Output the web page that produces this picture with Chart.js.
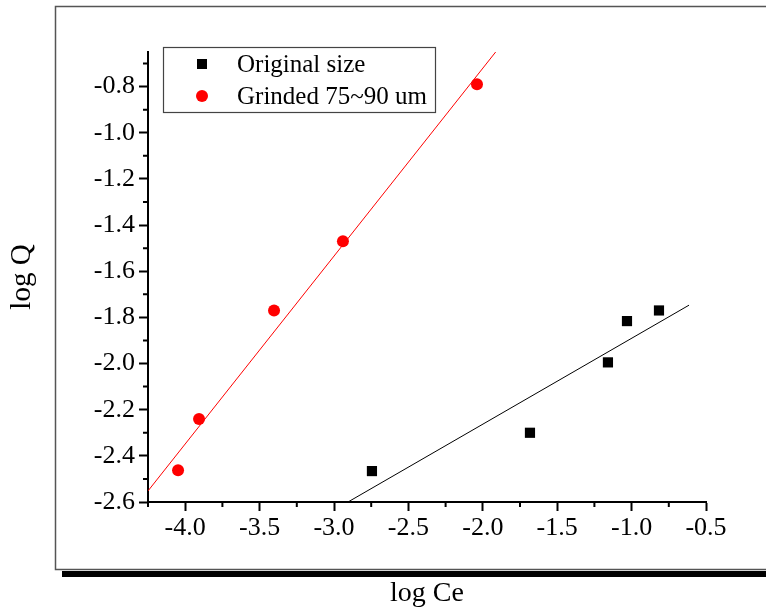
<!DOCTYPE html>
<html>
<head>
<meta charset="utf-8">
<script src="https://cdn.jsdelivr.net/npm/chart.js@4/dist/chart.umd.min.js"></script>
<style>
  html, body { margin: 0; padding: 0; background: #fff; }
  canvas { display: block; }
</style>
</head>
<body>
<canvas id="chart" width="766" height="611"></canvas>
<script>
// Measured points (log Ce, log Q)
const originalX = [-2.745, -1.683, -1.159, -1.031, -0.816];
const originalY = [-2.466, -2.30, -1.995, -1.816, -1.77];
const grindedX = [-4.048, -3.907, -3.403, -2.94, -2.039];
const grindedY = [-2.462, -2.24, -1.77, -1.47, -0.79];

// Fitted line end points
const originalFitX = [-2.906, -0.614];
const originalFitY = [-2.60, -1.747];
const grindedFitX = [-4.25, -1.905];
const grindedFitY = [-2.552, -0.643];

// Axis ticks
const xTicks = [-4.0, -3.5, -3.0, -2.5, -2.0, -1.5, -1.0, -0.5];
const xMinor = [-4.25, -3.75, -3.25, -2.75, -2.25, -1.75, -1.25, -0.75];
const yTicks = [-2.6, -2.4, -2.2, -2.0, -1.8, -1.6, -1.4, -1.2, -1.0, -0.8];
const yMinor = [-2.5, -2.3, -2.1, -1.9, -1.7, -1.5, -1.3, -1.1, -0.9, -0.7];

const toPoints = (xs, ys) => xs.map((x, i) => ({ x: x, y: ys[i] }));
const serif = "'Liberation Serif', 'Times New Roman', serif";

// outer frame with the heavy bottom shadow
const framePlugin = {
    id: "frame",
    beforeDraw(chart) {
        const ctx = chart.ctx;
        ctx.save();
        ctx.fillStyle = "#fff";
        ctx.fillRect(0, 0, chart.width, chart.height);
        ctx.strokeStyle = "#555";
        ctx.lineWidth = 1.5;
        ctx.beginPath();
        ctx.moveTo(chart.width + 2, 6.5);
        ctx.lineTo(55.5, 6.5);
        ctx.lineTo(55.5, 569.5);
        ctx.lineTo(chart.width + 2, 569.5);
        ctx.stroke();
        ctx.fillStyle = "#000";
        ctx.fillRect(62, 571, chart.width - 62, 6);
        ctx.restore();
    },
};

// minor ticks (Chart.js has none)
const minorTicks = {
    id: "minorTicks",
    afterDraw(chart) {
        const ctx = chart.ctx;
        const x = chart.scales.x;
        const y = chart.scales.y;
        const area = chart.chartArea;
        ctx.save();
        ctx.strokeStyle = "#000";
        ctx.lineWidth = 2;
        ctx.beginPath();
        xMinor.forEach((v) => {
            const px = x.getPixelForValue(v);
            ctx.moveTo(px, area.bottom);
            ctx.lineTo(px, area.bottom + 5);
        });
        yMinor.forEach((v) => {
            const py = y.getPixelForValue(v);
            ctx.moveTo(area.left, py);
            ctx.lineTo(area.left - 5, py);
        });
        ctx.stroke();
        ctx.restore();
    },
};

// boxed legend inside the plot
const boxLegend = {
    id: "boxLegend",
    afterDraw(chart) {
        const ctx = chart.ctx;
        ctx.save();
        ctx.strokeStyle = "#444";
        ctx.lineWidth = 1.2;
        ctx.strokeRect(163.5, 47.5, 272, 65);
        ctx.font = "25px " + serif;
        ctx.textBaseline = "middle";
        ctx.fillStyle = "#000";
        const items = chart.data.datasets.filter((d) => d.label);
        items.forEach((d, i) => {
            const cy = 64 + i * 32;
            ctx.fillStyle = d.backgroundColor;
            if (d.pointStyle === "rect") {
                ctx.fillRect(197, cy - 5, 10, 10);
            } else {
                ctx.beginPath();
                ctx.arc(202, cy, 6, 0, Math.PI * 2);
                ctx.fill();
            }
            ctx.fillStyle = "#000";
            ctx.fillText(d.label, 237, cy + 1);
        });
        ctx.restore();
    },
};

const axisCommon = {
    type: "linear",
    border: { color: "#000", width: 2 },
    grid: {
        drawOnChartArea: false,
        drawTicks: true,
        tickLength: 9,
        tickWidth: 2,
        tickColor: "#000",
    },
    ticks: {
        color: "#000",
        font: { family: serif, size: 26 },
        callback: (v) => v.toFixed(1),
    },
};

new Chart(document.getElementById("chart"), {
    type: "scatter",
    data: {
        datasets: [
            {
                label: "Original size",
                data: toPoints(originalX, originalY),
                pointStyle: "rect",
                pointRadius: 7.2,
                backgroundColor: "#000",
                borderColor: "#000",
                borderWidth: 0,
            },
            {
                label: "Grinded 75~90 um",
                data: toPoints(grindedX, grindedY),
                pointStyle: "circle",
                pointRadius: 6,
                backgroundColor: "#ff0000",
                borderColor: "#ff0000",
                borderWidth: 0,
            },
            {
                data: toPoints(originalFitX, originalFitY),
                showLine: true,
                pointRadius: 0,
                borderColor: "#000",
                borderWidth: 1,
            },
            {
                data: toPoints(grindedFitX, grindedFitY),
                showLine: true,
                pointRadius: 0,
                borderColor: "#ff0000",
                borderWidth: 1,
            },
        ],
    },
    options: {
        responsive: false,
        animation: false,
        events: [],
        layout: {
            padding: { top: 52, right: 60, left: 0, bottom: 0 },
        },
        scales: {
            x: {
                ...axisCommon,
                position: "bottom",
                min: -4.25,
                max: -0.5,
                afterBuildTicks: (scale) => {
                    scale.ticks = xTicks.map((v) => ({ value: v }));
                },
                afterFit: (scale) => {
                    scale.height = 109;
                },
                ticks: { ...axisCommon.ticks, padding: 2 },
                title: {
                    display: true,
                    text: "log Ce",
                    color: "#000",
                    font: { family: serif, size: 28 },
                    padding: { top: 0, bottom: 1 },
                },
            },
            y: {
                ...axisCommon,
                position: "left",
                min: -2.6,
                max: -0.65,
                afterBuildTicks: (scale) => {
                    scale.ticks = yTicks.map((v) => ({ value: v }));
                },
                afterFit: (scale) => {
                    scale.width = 148;
                },
                ticks: { ...axisCommon.ticks, padding: 4 },
                title: {
                    display: true,
                    text: "log Q",
                    color: "#000",
                    font: { family: serif, size: 29 },
                    padding: { top: 5, bottom: 0 },
                },
            },
        },
        plugins: {
            legend: { display: false },
            tooltip: { enabled: false },
        },
    },
    plugins: [framePlugin, minorTicks, boxLegend],
});
</script>
</body>
</html>
